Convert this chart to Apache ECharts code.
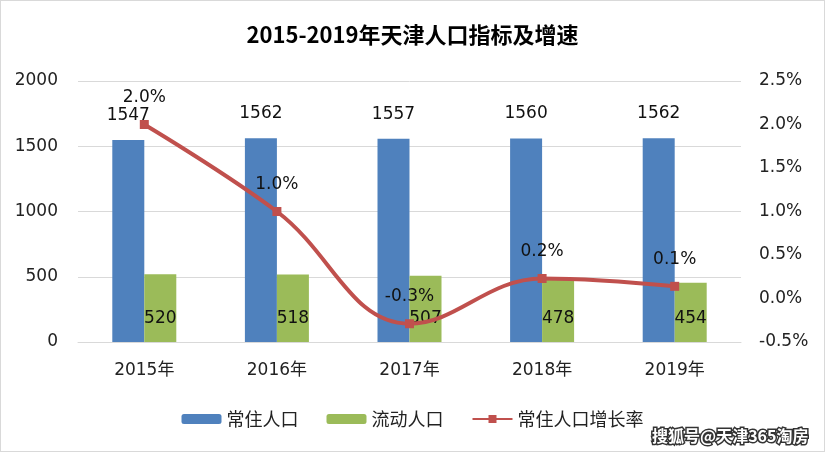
<!DOCTYPE html>
<html>
<head>
<meta charset="utf-8">
<script src="https://cdn.jsdelivr.net/npm/echarts@6/dist/echarts.min.js"></script>
<style>
  html, body { margin: 0; padding: 0; background: #fff; }
  #chart { width: 823px; height: 450px; border: 1px solid #d9d9d9; }
</style>
</head>
<body>
<div id="chart"></div>
<script>
// 数据：2015-2019 天津人口（万人）及常住人口增速（%）
const years = ['2015年', '2016年', '2017年', '2018年', '2019年']
const residentPop = [1547, 1562, 1557, 1560, 1562]
const floatingPop = [520, 518, 507, 478, 454]
const growthRate = [2.0, 1.0, -0.29, 0.23, 0.14]

const FONT = '"DejaVu Sans", "Noto Sans CJK SC", sans-serif'
const CJK = '"Noto Sans CJK SC", sans-serif'

const chart = echarts.init(document.getElementById('chart'))

const option = {
  textStyle: { fontFamily: FONT },
  title: {
    text: '2015-2019年天津人口指标及增速',
    left: 'center',
    top: 18,
    textStyle: { fontSize: 22, fontWeight: 'bold', color: '#000', fontFamily: CJK }
  },
  grid: { left: 77, right: 83, top: 80, bottom: 109 },
  legend: {
    bottom: 18,
    left: 'center',
    itemWidth: 40,
    itemHeight: 10,
    itemGap: 28,
    textStyle: { fontSize: 18, color: '#222', fontFamily: CJK },
    data: ['常住人口', '流动人口', '常住人口增长率']
  },
  xAxis: {
    type: 'category',
    data: years,
    axisLine: { lineStyle: { color: '#d9d9d9' } },
    axisTick: { show: false },
    axisLabel: { fontSize: 17, color: '#222', margin: 20 }
  },
  yAxis: [
    {
      type: 'value',
      min: 0,
      max: 2000,
      interval: 500,
      axisLine: { show: false },
      axisTick: { show: false },
      axisLabel: { fontSize: 17, color: '#222', margin: 20, formatter: (v) => String(v) },
      splitLine: { lineStyle: { color: '#d9d9d9', width: 1 } }
    },
    {
      type: 'value',
      min: -0.5,
      max: 2.5,
      interval: 0.5,
      position: 'right',
      axisLine: { show: false },
      axisTick: { show: false },
      axisLabel: {
        fontSize: 17,
        color: '#222',
        margin: 18,
        formatter: (v) => v.toFixed(1) + '%'
      },
      splitLine: { show: false }
    }
  ],
  series: [
    {
      name: '常住人口',
      type: 'bar',
      data: residentPop,
      barWidth: 32,
      barGap: '0%',
      itemStyle: { color: '#4F81BD' },
      label: {
        show: true,
        position: 'top',
        distance: 16,
        fontSize: 17,
        color: '#111'
      }
    },
    {
      name: '流动人口',
      type: 'bar',
      data: floatingPop,
      barWidth: 32,
      itemStyle: { color: '#9BBB59' },
      label: {
        show: true,
        position: 'insideBottom',
        distance: 15,
        fontSize: 17,
        color: '#111'
      }
    },
    {
      name: '常住人口增长率',
      type: 'line',
      yAxisIndex: 1,
      data: growthRate,
      smooth: 0.4,
      symbol: 'rect',
      symbolSize: 9,
      lineStyle: { color: '#C0504D', width: 4 },
      itemStyle: { color: '#C0504D' },
      label: {
        show: true,
        position: 'top',
        distance: 14,
        fontSize: 17,
        color: '#111',
        formatter: (p) => p.value.toFixed(1) + '%'
      },
      z: 5
    }
  ],
  graphic: [
    {
      type: 'text',
      right: 14,
      bottom: 6,
      style: {
        text: '搜狐号@天津365淘房',
        fontSize: 16,
        fontWeight: 'bold',
        fontFamily: CJK,
        fill: '#fff',
        stroke: '#333',
        lineWidth: 3
      },
      z: 100
    }
  ]
}

chart.setOption(option)
</script>
</body>
</html>
